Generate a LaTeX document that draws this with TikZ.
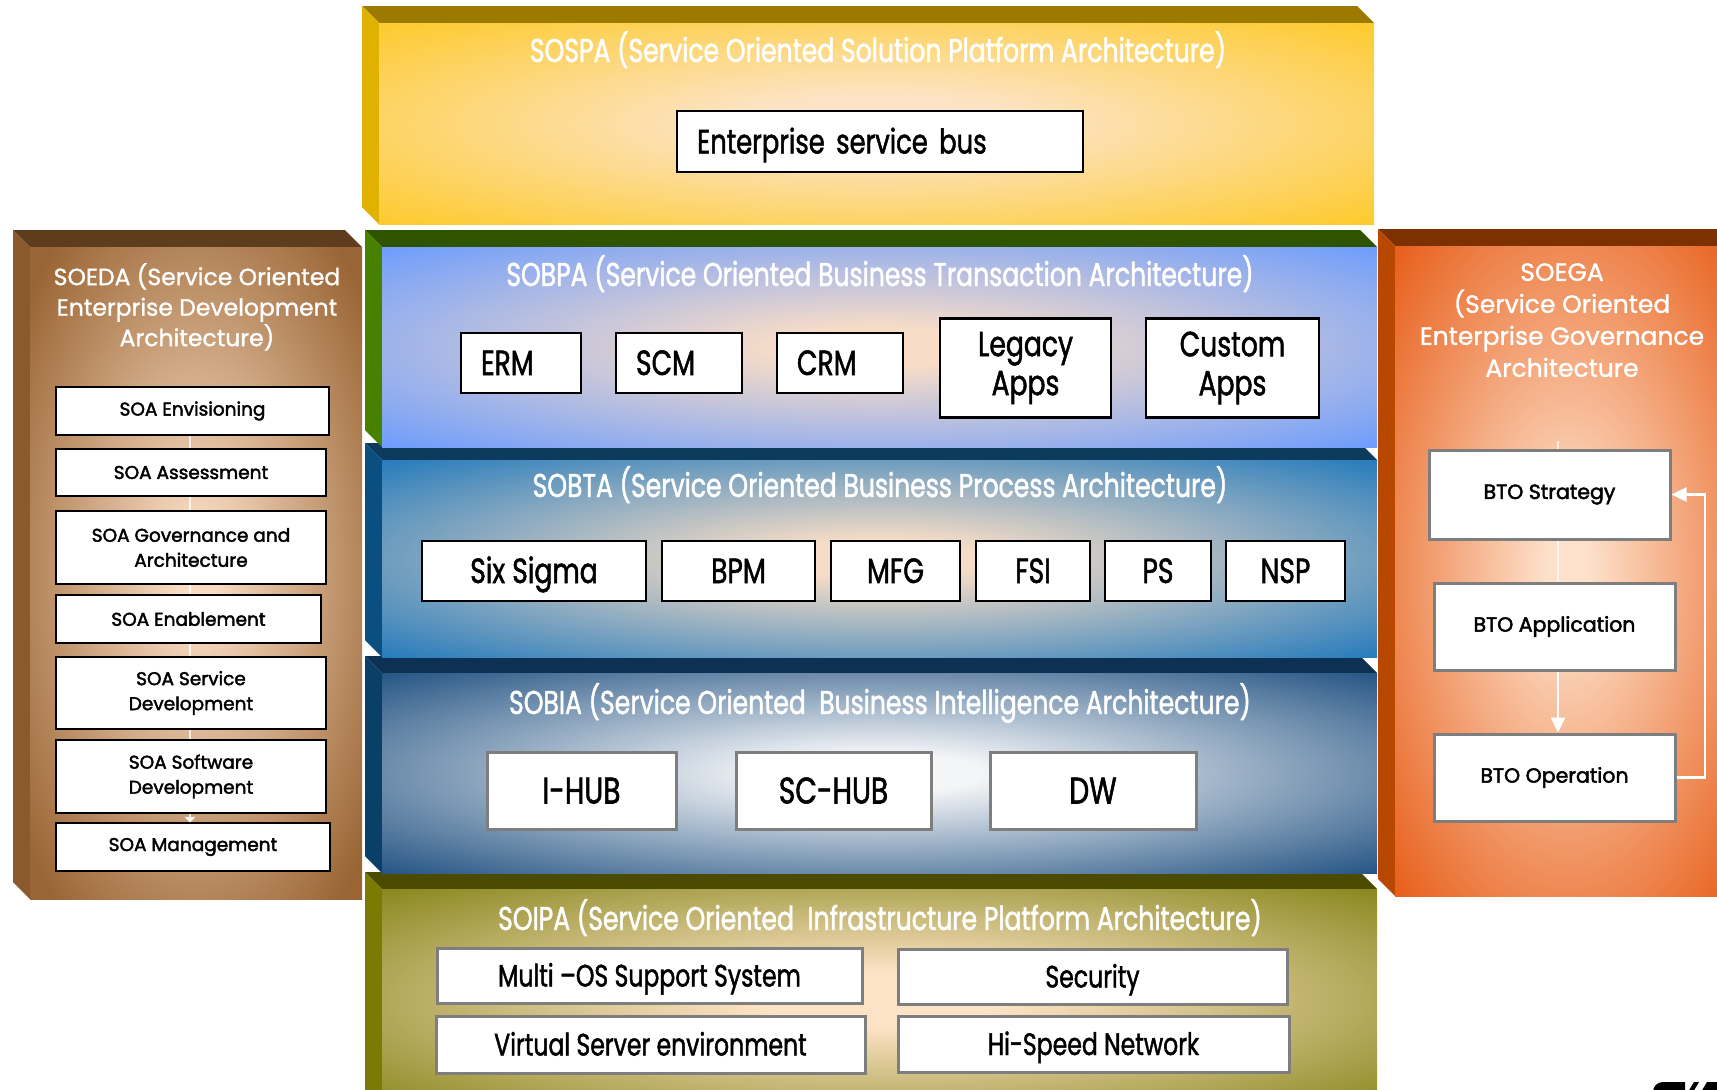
\documentclass[tikz,border=0pt]{standalone}
\usepackage{fontspec}
\setmainfont{Poppins}[FakeBold=1.2]
\newfontfamily\condfont[FakeStretch=0.76, FakeBold=1.4]{Poppins}
\newfontfamily\boxfont[FakeBold=2.2]{Poppins}
\usetikzlibrary{arrows.meta}

% face colours of the slabs
\definecolor{spIn}{HTML}{FDE3C4}\definecolor{spOut}{HTML}{FDC718}
\definecolor{spTop}{HTML}{9C7A00}\definecolor{spLeft}{HTML}{E0B100}
\definecolor{bpIn}{HTML}{F7DCC8}\definecolor{bpOut}{HTML}{6699FF}
\definecolor{bpTop}{HTML}{2E5400}\definecolor{bpLeft}{HTML}{488000}
\definecolor{btIn}{HTML}{F5DCC6}\definecolor{btOut}{HTML}{1B76BB}
\definecolor{btTop}{HTML}{0D3B5E}\definecolor{btLeft}{HTML}{0B4F80}
\definecolor{biIn}{HTML}{F4F5F7}\definecolor{biOut}{HTML}{1A4C7E}
\definecolor{biTop}{HTML}{0C3152}\definecolor{biLeft}{HTML}{0A4068}
\definecolor{ipIn}{HTML}{FDE3C6}\definecolor{ipOut}{HTML}{7F7F0F}
\definecolor{ipTop}{HTML}{4B4B00}\definecolor{ipLeft}{HTML}{7A7A05}
\definecolor{edIn}{HTML}{F9DCC3}\definecolor{edOut}{HTML}{9A6534}
\definecolor{edTop}{HTML}{5E3D1C}\definecolor{edLeft}{HTML}{8A592C}
\definecolor{egIn}{HTML}{FDE1CB}\definecolor{egOut}{HTML}{E8601C}
\definecolor{egTop}{HTML}{7D3000}\definecolor{egLeft}{HTML}{B84800}
\definecolor{boxgray}{HTML}{7E7E7E}

\pgfdeclareradialshading{glowSP}{\pgfpoint{0bp}{0bp}}{color(0bp)=(spIn); color(7bp)=(spIn); color(39bp)=(spOut); color(50bp)=(spOut)}
\pgfdeclareradialshading{glowBP}{\pgfpoint{0bp}{0bp}}{color(0bp)=(bpIn); color(5bp)=(bpIn); color(37bp)=(bpOut); color(50bp)=(bpOut)}
\pgfdeclareradialshading{glowBT}{\pgfpoint{0bp}{0bp}}{color(0bp)=(btIn); color(5bp)=(btIn); color(37bp)=(btOut); color(50bp)=(btOut)}
\pgfdeclareradialshading{glowBI}{\pgfpoint{0bp}{0bp}}{color(0bp)=(biIn); color(5bp)=(biIn); color(37bp)=(biOut); color(50bp)=(biOut)}
\pgfdeclareradialshading{glowIP}{\pgfpoint{0bp}{0bp}}{color(0bp)=(ipIn); color(6bp)=(ipIn); color(38bp)=(ipOut); color(50bp)=(ipOut)}
\pgfdeclareradialshading{glowED}{\pgfpoint{0bp}{0bp}}{color(0bp)=(edIn); color(3bp)=(edIn); color(33bp)=(edOut); color(50bp)=(edOut)}
\pgfdeclareradialshading{glowEG}{\pgfpoint{0bp}{0bp}}{color(0bp)=(egIn); color(3bp)=(egIn); color(35bp)=(egOut); color(50bp)=(egOut)}

% a slab: front face x0 y0 x1 y1, top colour, left colour, front shading
\newcommand\slab[7]{%
  \fill[#5] (#1-17,#2-17) -- (#3-17,#2-17) -- (#3,#2) -- (#1,#2) -- cycle;
  \fill[#6] (#1-17,#2-17) -- (#1,#2) -- (#1,#4) -- (#1-17,#4-17) -- cycle;
  \shade[shading=#7] (#1,#2) rectangle (#3,#4);
}

\tikzset{
  title/.style={text=white, inner sep=0pt, anchor=base,
    font=\condfont\fontsize{33}{36}\selectfont},
  sidetitle/.style={text=white, inner sep=0pt, anchor=north, align=center,
    font=\fontsize{23.5}{30.5}\selectfont},
  midbox/.style={draw=black, line width=2.5pt, fill=white, inner sep=0pt,
    font=\condfont\fontsize{35}{39}\selectfont},
  leftbox/.style={midbox, inner xsep=20pt, align=left,
    text height=24pt, text depth=0pt},
  cbox/.style={midbox, text height=24pt, text depth=0pt},
  hubbox/.style={midbox, draw=boxgray, line width=3pt,
    font=\condfont\fontsize{37}{40}\selectfont, text height=26pt, text depth=0pt},
  infbox/.style={midbox, draw=boxgray, line width=3pt,
    font=\condfont\fontsize{31}{34}\selectfont, text height=22pt, text depth=0pt},
  soabox/.style={draw=black, line width=2.5pt, fill=white, inner sep=0pt,
    align=center, font=\boxfont\fontsize{18.5}{25}\selectfont},
  btobox/.style={draw=boxgray, line width=3pt, fill=white, inner sep=0pt,
    align=center, font=\boxfont\fontsize{20.5}{25}\selectfont},
  flow/.style={draw=white, line width=2.5pt, draw opacity=0.75},
}

\begin{document}
\begin{tikzpicture}[x=1pt, y=-1pt]
\useasboundingbox (0,0) rectangle (1717,1090);
\clip (0,0) rectangle (1717,1090);

% side columns
\slab{30}{247}{362}{899}{edTop}{edLeft}{glowED}
\slab{1395}{246}{1740}{896}{egTop}{egLeft}{glowEG}

% central stack, drawn from the bottom up
\slab{382}{889}{1377}{1110}{ipTop}{ipLeft}{glowIP}
\slab{382}{673}{1377}{873}{biTop}{biLeft}{glowBI}
\slab{382}{460}{1377}{657}{btTop}{btLeft}{glowBT}
\slab{382}{247}{1377}{447}{bpTop}{bpLeft}{glowBP}
\slab{379}{23}{1374}{224}{spTop}{spLeft}{glowSP}

% solution platform
\node[title] (sospa) at (878,62) {SOSPA (Service Oriented Solution Platform Architecture)};
\node[leftbox, text width=366pt, minimum height=61pt, font=\condfont\fontsize{34}{38}\selectfont] (esb) at (880,141.5) {Enterprise service bus};

% business transaction
\node[title] (sobpa) at (880,286) {SOBPA (Service Oriented Business Transaction Architecture)};
\node[leftbox, text width=80pt, minimum height=60pt] (erm) at (521,363) {ERM};
\node[leftbox, text width=86pt, minimum height=60pt] (scm) at (679,363) {SCM};
\node[leftbox, text width=86pt, minimum height=60pt] (crm) at (840,363) {CRM};
\node[midbox, align=center, minimum width=171pt, minimum height=99pt] (legacy) at (1025.5,368) {Legacy\\Apps};
\node[midbox, align=center, minimum width=173pt, minimum height=99pt] (custom) at (1232.5,368) {Custom\\Apps};

% business process
\node[title] (sobta) at (880,497) {SOBTA (Service Oriented Business Process Architecture)};
\node[cbox, minimum width=224pt, minimum height=60pt] (sixsigma) at (534,571) {Six Sigma};
\node[cbox, minimum width=153pt, minimum height=60pt] (bpm) at (738.5,571) {BPM};
\node[cbox, minimum width=129pt, minimum height=60pt] (mfg) at (895.5,571) {MFG};
\node[cbox, minimum width=114pt, minimum height=60pt] (fsi) at (1033,571) {FSI};
\node[cbox, minimum width=106pt, minimum height=60pt] (ps) at (1158,571) {PS};
\node[cbox, minimum width=119pt, minimum height=60pt] (nsp) at (1285.5,571) {NSP};

% business intelligence
\node[title] (sobia) at (880,714) {SOBIA (Service Oriented~ Business Intelligence Architecture)};
\node[hubbox, minimum width=189pt, minimum height=77pt] (ihub) at (581.5,790.5) {I-HUB};
\node[hubbox, minimum width=195pt, minimum height=77pt] (schub) at (833.5,790.5) {SC-HUB};
\node[hubbox, minimum width=206pt, minimum height=77pt] (dw) at (1093,790.5) {DW};

% infrastructure platform
\node[title] (soipa) at (880,930) {SOIPA (Service Oriented~ Infrastructure Platform Architecture)};
\node[infbox, minimum width=425pt, minimum height=55pt] (multios) at (649.5,975.5) {Multi –OS Support System};
\node[infbox, minimum width=389pt, minimum height=55pt] (security) at (1092.5,976.5) {Security};
\node[infbox, minimum width=429pt, minimum height=57pt] (virtual) at (650.5,1044.5) {Virtual Server environment};
\node[infbox, minimum width=391pt, minimum height=56pt] (hispeed) at (1093.5,1044) {Hi-Speed Network};

% enterprise development
\node[sidetitle] (soeda) at (197,263) {SOEDA (Service Oriented\\Enterprise Development\\Architecture)};
\coordinate (edaxis) at (190,0);
\node[soabox, minimum width=273pt, minimum height=48pt] (envision) at (192.5,411) {SOA Envisioning};
\node[soabox, minimum width=270pt, minimum height=47pt] (assess) at (191,472.5) {SOA Assessment};
\node[soabox, minimum width=270pt, minimum height=73pt] (govern) at (191,547.5) {SOA Governance and\\Architecture};
\node[soabox, minimum width=265pt, minimum height=48pt] (enable) at (188.5,619) {SOA Enablement};
\node[soabox, minimum width=270pt, minimum height=72pt] (servdev) at (191,693) {SOA Service\\Development};
\node[soabox, minimum width=270pt, minimum height=73pt] (softdev) at (191,776.5) {SOA Software\\Development};
\node[soabox, minimum width=274pt, minimum height=48pt] (manage) at (193,847) {SOA Management};
\draw[flow] (envision.south -| edaxis) -- (assess.north -| edaxis);
\draw[flow] (assess.south -| edaxis) -- (govern.north -| edaxis);
\draw[flow] (govern.south -| edaxis) -- (enable.north -| edaxis);
\draw[flow] (enable.south -| edaxis) -- (servdev.north -| edaxis);
\draw[flow] (servdev.south -| edaxis) -- (softdev.north -| edaxis);
\draw[flow, -{Triangle[length=6pt, width=11pt]}, shorten >=-1pt] (softdev.south -| edaxis) -- (manage.north -| edaxis);

% enterprise governance
\node[sidetitle, font=\fontsize{25}{32}\selectfont] (soega) at (1562,263) {SOEGA\\(Service Oriented\\Enterprise Governance\\Architecture};
\coordinate (egaxis) at (1558,0);
\coordinate (stubtop) at (1558,441);
\coordinate (loopx) at (1705,0);
\node[btobox, minimum width=241pt, minimum height=89pt] (strategy) at (1549.5,494.5) {BTO Strategy};
\node[btobox, minimum width=241pt, minimum height=87pt] (application) at (1554.5,626.5) {BTO Application};
\node[btobox, minimum width=241pt, minimum height=87pt] (operation) at (1554.5,777.5) {BTO Operation};
\draw[flow] (stubtop) -- (strategy.north -| egaxis);
\draw[flow] (strategy.south -| egaxis) -- (application.north -| egaxis);
\draw[flow, draw opacity=1, -{Triangle[length=15pt, width=14pt]}] (application.south -| egaxis) -- (operation.north -| egaxis);
\draw[flow, draw opacity=1, -{Triangle[length=15pt, width=14pt]}]
  (operation.east) -- (operation.east -| loopx) -- (strategy.east -| loopx) -- (strategy.east);

% corner mark
\fill[black] (1662,1082) -- (1685,1082) -- (1685,1092) -- (1653,1092) arc[start angle=180, end angle=90, radius=10pt] -- cycle;
\fill[black] (1688,1092) -- (1694,1082) -- (1699,1082) -- (1693,1092) -- cycle;
\fill[black] (1701,1092) -- (1707,1082) -- (1717,1082) -- (1717,1092) -- cycle;
\end{tikzpicture}
\end{document}
